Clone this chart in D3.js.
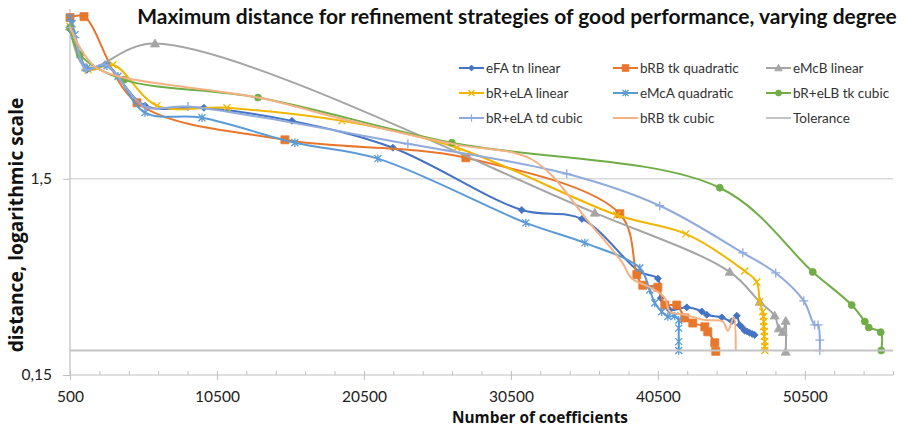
<!DOCTYPE html>
<html>
<head>
<meta charset="utf-8">
<script src="https://cdn.jsdelivr.net/npm/d3@7"></script>
<style>
  body { margin: 0; background: #fff; }
  svg { display: block; font-family: Lato, "Open Sans", sans-serif; }
</style>
</head>
<body>
<div id="chart"></div>
<script>
// each point: [number of coefficients, maximum distance]
const eFA_tn_linear = [[500, 8.64], [1656, 5.40], [2880, 5.72], [5600, 3.54], [9615, 3.45], [15600, 2.96],
    [22470, 2.16], [31240, 1.04], [35330, 0.937], [39270, 0.503], [40500, 0.465], [40700, 0.370],
    [41310, 0.322], [42470, 0.332], [43490, 0.316], [43830, 0.304], [44850, 0.295], [45530, 0.282],
    [45870, 0.301], [46070, 0.270], [46240, 0.262], [46410, 0.252], [46580, 0.250], [46750, 0.246],
    [46920, 0.243], [47090, 0.240]];
const bRB_tk_quadratic = [[500, 9.94], [1452, 10.06], [5057, 3.66], [15124, 2.37], [27436, 1.92], [37911, 0.995],
    [39067, 0.487], [39475, 0.43], [40496, 0.42], [40972, 0.341], [41788, 0.341], [42332, 0.293],
    [42876, 0.276], [43693, 0.264], [43897, 0.249], [44373, 0.219], [44441, 0.198]];
const eMcB_linear = [[500, 8.95], [1590, 5.53], [6282, 7.33], [36210, 1.006], [45390, 0.503], [47430, 0.354],
    [48450, 0.301], [48730, 0.259], [49000, 0.248], [49200, 0.283], [49200, 0.197]];
const bR_eLA_linear = [[500, 8.95], [1720, 5.40], [3420, 5.72], [6420, 3.54], [11180, 3.45], [19000, 2.96],
    [26820, 2.16], [37710, 0.98], [42400, 0.786], [46410, 0.508], [47230, 0.447], [47430, 0.354],
    [47640, 0.315], [47680, 0.298], [47710, 0.281], [47710, 0.265], [47740, 0.250], [47740, 0.236],
    [47780, 0.222], [47780, 0.210], [47780, 0.200]];
const eMcA_quadratic = [[500, 9.94], [636, 9.26], [840, 8.14], [1180, 6.44], [1656, 5.50], [3017, 5.65],
    [3765, 5.0], [5600, 3.26], [9480, 3.07], [15800, 2.29], [21450, 1.90], [31520, 0.894], [35530, 0.707],
    [39270, 0.527], [39950, 0.407], [40290, 0.349], [40770, 0.315], [41180, 0.298], [41650, 0.300],
    [41920, 0.285], [41920, 0.260], [41920, 0.222], [41920, 0.200]];
const bR_eLB_tk_cubic = [[500, 8.84], [1180, 6.44], [4170, 4.80], [13290, 3.89], [26480, 2.29], [44710, 1.35],
    [51040, 0.503], [53690, 0.341], [54580, 0.281], [54850, 0.262], [55660, 0.248], [55700, 0.200]];
const bR_eLA_td_cubic = [[500, 8.84], [840, 7.86], [1590, 5.40], [2880, 5.72], [5600, 3.50], [8530, 3.50],
    [23490, 2.26], [34300, 1.59], [40630, 1.093], [46280, 0.629], [48520, 0.497], [50430, 0.358],
    [51170, 0.270], [51400, 0.270], [51520, 0.226], [51520, 0.200]];
const bRB_tk_cubic = [[500, 8.95], [1180, 6.99], [2200, 5.59], [3901, 4.97], [13290, 3.89], [19546, 2.96],
    [26824, 2.24], [30633, 2.04], [31993, 1.87], [33354, 1.54], [35667, 0.93], [38048, 0.566],
    [38728, 0.465], [39952, 0.42], [40972, 0.371], [41312, 0.316], [42332, 0.304], [43693, 0.286],
    [44918, 0.281], [45258, 0.252], [45666, 0.295], [45802, 0.200]];
const tolerance = [[500, 0.2], [56500, 0.2]];

const seriesNames = ["eFA tn linear", "bRB tk quadratic", "eMcB linear",
    "bR+eLA linear", "eMcA quadratic", "bR+eLB tk cubic",
    "bR+eLA td cubic", "bRB tk cubic", "Tolerance"];
const xMajorTicks = [500, 10500, 20500, 30500, 40500, 50500];
const xMinorTicks = d3.range(2500, 56501, 2000).filter(v => (v - 500) % 10000 !== 0);
const yTicks = [0.15, 1.5];

const width = 915, height = 433;

// marker shapes, drawn with radius r
const marks = {
    diamond: {draw(c, r) { c.moveTo(0, -r); c.lineTo(r, 0); c.lineTo(0, r); c.lineTo(-r, 0); c.closePath(); }},
    square: {draw(c, r) { c.rect(-r, -r, 2 * r, 2 * r); }},
    triangle: {draw(c, r) { c.moveTo(0, -r); c.lineTo(r, r * 0.75); c.lineTo(-r, r * 0.75); c.closePath(); }},
    circle: {draw(c, r) { c.moveTo(r, 0); c.arc(0, 0, r, 0, 2 * Math.PI); }},
    x: {draw(c, r) { c.moveTo(-r, -r); c.lineTo(r, r); c.moveTo(r, -r); c.lineTo(-r, r); }},
    asterisk: {draw(c, r) { c.moveTo(-r, -r); c.lineTo(r, r); c.moveTo(r, -r); c.lineTo(-r, r); c.moveTo(0, -r * 1.2); c.lineTo(0, r * 1.2); }},
    plus: {draw(c, r) { c.moveTo(-r, 0); c.lineTo(r, 0); c.moveTo(0, -r); c.lineTo(0, r); }}
};

const series = [
    {data: eFA_tn_linear, color: "#4472C4", mark: "diamond", r: 3.5, fill: true},
    {data: bRB_tk_quadratic, color: "#E8772E", mark: "square", r: 4, fill: true},
    {data: eMcB_linear, color: "#A5A5A5", mark: "triangle", r: 4.5, fill: true},
    {data: bR_eLA_linear, color: "#F2B600", mark: "x", r: 3.5, fill: false},
    {data: eMcA_quadratic, color: "#5B9BD5", mark: "asterisk", r: 3.5, fill: false},
    {data: bR_eLB_tk_cubic, color: "#70AD47", mark: "circle", r: 3.5, fill: true},
    {data: bR_eLA_td_cubic, color: "#8FAADC", mark: "plus", r: 4.5, fill: false},
    {data: bRB_tk_cubic, color: "#F4B183", mark: null},
    {data: tolerance, color: "#C3C3C3", mark: null}
].map((s, i) => ({...s, name: seriesNames[i]}));

const svg = d3.select("#chart").append("svg")
    .attr("width", width)
    .attr("height", height);

// Scales
const x = d3.scaleLinear().domain([500, 56500]).range([70, 893]);
const y = d3.scaleLog().domain([0.15, 11]).range([375, 9]);

function fitWidth(sel, w) {
    let fs = parseFloat(sel.attr("font-size"));
    let len = sel.node().getComputedTextLength();
    sel.attr("font-size", fs * w / len);
}

// gridline
svg.append("line")
    .attr("x1", x(500)).attr("x2", x(56500))
    .attr("y1", y(1.5)).attr("y2", y(1.5))
    .attr("stroke", "#D9D9D9").attr("stroke-width", 1.5);

// x axis
let xMinor = svg.append("g")
    .attr("transform", "translate(0," + y(0.15) + ")")
    .call(d3.axisBottom(x).tickValues(xMinorTicks).tickSize(-4).tickFormat(""));
let xMajor = svg.append("g")
    .attr("transform", "translate(0," + y(0.15) + ")")
    .call(d3.axisBottom(x).tickValues(xMajorTicks).tickSize(5).tickPadding(11).tickFormat(d3.format("d")));
xMajor.selectAll(".tick line").attr("y1", -4);
[xMinor, xMajor].forEach(g => {
    g.select(".domain").remove();
    g.selectAll(".tick line").attr("stroke", "#BFBFBF");
});
xMajor.selectAll(".tick text")
    .attr("font-size", 15.5).attr("fill", "#222")
    .attr("font-family", "Lato, 'Open Sans', sans-serif");

// y axis
let yAxis = svg.append("g")
    .attr("transform", "translate(" + x(500) + ",0)")
    .call(d3.axisLeft(y).tickValues(yTicks).tickSize(7).tickPadding(11)
        .tickFormat(d => String(d).replace(".", ",")));
yAxis.select(".domain").remove();
yAxis.selectAll(".tick line").attr("stroke", "#BFBFBF");
yAxis.selectAll(".tick text")
    .attr("font-size", 15.5).attr("fill", "#222")
    .attr("font-family", "Lato, 'Open Sans', sans-serif");

svg.append("line")
    .attr("x1", x(500)).attr("x2", x(56500))
    .attr("y1", y(0.15)).attr("y2", y(0.15))
    .attr("stroke", "#BFBFBF").attr("stroke-width", 1.2);
svg.append("line")
    .attr("x1", x(500)).attr("x2", x(500))
    .attr("y1", 9).attr("y2", y(0.15))
    .attr("stroke", "#BFBFBF").attr("stroke-width", 1.2);

// lines and markers
const line = d3.line()
    .x(d => x(d[0]))
    .y(d => y(d[1]))
    .curve(d3.curveCatmullRom.alpha(0.5));

series.forEach(s => {
    svg.append("path")
        .datum(s.data)
        .attr("d", line)
        .attr("fill", "none")
        .attr("stroke", s.color)
        .attr("stroke-width", 2);

    if (s.mark) {
        svg.selectAll(null)
            .data(s.data)
            .enter().append("path")
            .attr("transform", d => "translate(" + x(d[0]) + "," + y(d[1]) + ")")
            .attr("d", d3.symbol().type(marks[s.mark]).size(s.r))
            .attr("fill", s.fill ? s.color : "none")
            .attr("stroke", s.color)
            .attr("stroke-width", s.fill ? 0.8 : 1.3);
    }
});

// legend
const legendCols = [459, 613, 766];
const legendRows = [68, 93, 118];
const legend = svg.selectAll(".legend")
    .data(series)
    .enter().append("g")
    .attr("class", "legend")
    .attr("transform", (d, i) => "translate(" + legendCols[i % 3] + "," + legendRows[Math.floor(i / 3)] + ")");

legend.append("line")
    .attr("x1", 0).attr("x2", 25)
    .attr("stroke", d => d.color)
    .attr("stroke-width", 2);

legend.filter(d => d.mark).append("path")
    .attr("transform", "translate(12.5,0)")
    .attr("d", d => d3.symbol().type(marks[d.mark]).size(d.r * 0.85)())
    .attr("fill", d => d.fill ? d.color : "none")
    .attr("stroke", d => d.color)
    .attr("stroke-width", d => d.fill ? 0.8 : 1.2);

legend.append("text")
    .attr("x", 27)
    .attr("dy", "0.35em")
    .attr("font-size", 13.5)
    .attr("fill", "#333")
    .text(d => d.name);

// titles
let title = svg.append("text")
    .attr("x", 517).attr("y", 24)
    .attr("text-anchor", "middle")
    .attr("font-weight", "bold")
    .attr("font-size", 19)
    .attr("fill", "#111")
    .text("Maximum distance for refinement strategies of good performance, varying degree");
fitWidth(title, 760);

let xTitle = svg.append("text")
    .attr("x", 540).attr("y", 423)
    .attr("text-anchor", "middle")
    .attr("font-weight", "bold")
    .attr("font-size", 14)
    .attr("font-family", "'Open Sans', Lato, sans-serif")
    .attr("fill", "#111")
    .text("Number of coefficients");
fitWidth(xTitle, 176);

let yTitle = svg.append("text")
    .attr("transform", "translate(23,225) rotate(-90)")
    .attr("text-anchor", "middle")
    .attr("font-weight", "bold")
    .attr("font-size", 14)
    .attr("font-family", "'Open Sans', Lato, sans-serif")
    .attr("fill", "#111")
    .text("distance, logarithmic scale");
fitWidth(yTitle, 255);
</script>
</body>
</html>
